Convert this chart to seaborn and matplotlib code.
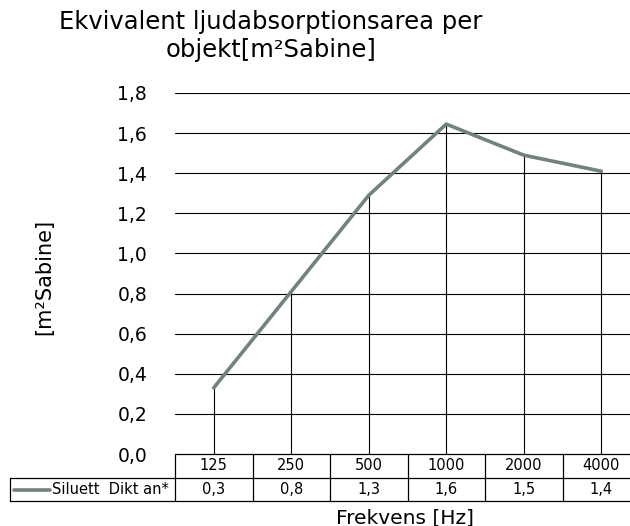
import numpy as np
import pandas as pd
import matplotlib
matplotlib.use("Agg")
import matplotlib.pyplot as plt
import matplotlib.transforms as mtransforms
import seaborn as sns

categories = ["125", "250", "500", "1000", "2000", "4000"]
values = [0.33, 0.81, 1.29, 1.645, 1.49, 1.41]
series_name = "Siluett  Dikt an*"
yticks = [0.0, 0.2, 0.4, 0.6, 0.8, 1.0, 1.2, 1.4, 1.6, 1.8]
title = "Ekvivalent ljudabsorptionsarea per\nobjekt[m²Sabine]"
ylabel = "[m²Sabine]"
xlabel = "Frekvens [Hz]"

sns.set_theme(style="white")
plt.rcParams["font.family"] = ["DejaVu Sans"]
plt.rcParams["text.color"] = "black"
plt.rcParams["ytick.labelcolor"] = "black"
plt.rcParams["ytick.color"] = "black"

line_color = "#72827f"
W, H = 630, 526
fig = plt.figure(figsize=(W / 100, H / 100), dpi=100)
# axes in pixels: left 175, right 640, top 93, bottom 454
ax = fig.add_axes([175 / W, 1 - 454 / H, (640 - 175) / W, (454 - 93) / H])

pos = np.arange(len(categories))
df = pd.DataFrame({"pos": pos, "val": values})
ax.vlines(df["pos"], 0, df["val"], color="black", lw=0.8, zorder=2)
sns.lineplot(data=df, x="pos", y="val", ax=ax, color=line_color, lw=2.6, sort=False, zorder=3)

ax.set_xlim(-0.5, len(categories) - 0.5)
ax.set_ylim(0, 1.8)
ax.set_yticks(yticks)
ax.set_yticklabels([f"{t:.1f}".replace(".", ",") for t in yticks], fontsize=13.5, color="black")
ax.tick_params(axis="y", length=0, pad=20)
ax.set_xticks([])
ax.set_xlabel("")
ax.set_ylabel("")
for s in ax.spines.values():
    s.set_visible(False)
for t in yticks[1:]:
    ax.axhline(t, color="black", lw=0.8, zorder=1)

# data table
trans = mtransforms.blended_transform_factory(ax.transData, ax.transAxes)
ah = 454 - 93
y0 = 0.0
y1 = -24 / ah
y2 = -47 / ah
xl = -0.5
xr = len(categories) - 0.5
xleg = -0.5 - (175 - 10) / 77.5
kw = dict(transform=trans, clip_on=False, color="black", lw=0.9)
ax.plot([xl, xr], [y0, y0], **kw)
ax.plot([xl, xr], [y1, y1], **kw)
ax.plot([xleg, xl], [y1, y1], **kw)
ax.plot([xleg, xr], [y2, y2], **kw)
ax.plot([xleg, xleg], [y1, y2], **kw)
for i in range(len(categories) + 1):
    ax.plot([i - 0.5, i - 0.5], [y0, y2], **kw)
for i, (c, v) in enumerate(zip(categories, values)):
    ax.text(i, (y0 + y1) / 2, c, transform=trans, ha="center", va="center", fontsize=10.5, clip_on=False)
    ax.text(i, (y1 + y2) / 2, f"{v:.1f}".replace(".", ","), transform=trans, ha="center", va="center",
            fontsize=10.5, clip_on=False)
# legend key
px = 1 / 77.5
ax.plot([xleg + 4 * px, xleg + 40 * px], [(y1 + y2) / 2] * 2, transform=trans, clip_on=False,
        color=line_color, lw=2.6)
ax.text(xleg + 42 * px, (y1 + y2) / 2, series_name, transform=trans, ha="left", va="center",
        fontsize=10.5, clip_on=False)

fig.text(271 / W, 1 - 36 / H, title, ha="center", va="center", fontsize=17.5, linespacing=1.2)
fig.text(44 / W, 1 - 277 / H, ylabel, ha="center", va="center", rotation=90, fontsize=15)
fig.text(405 / W, 1 - 518 / H, xlabel, ha="center", va="center", fontsize=14.5)

fig.savefig("out.png", dpi=100)
